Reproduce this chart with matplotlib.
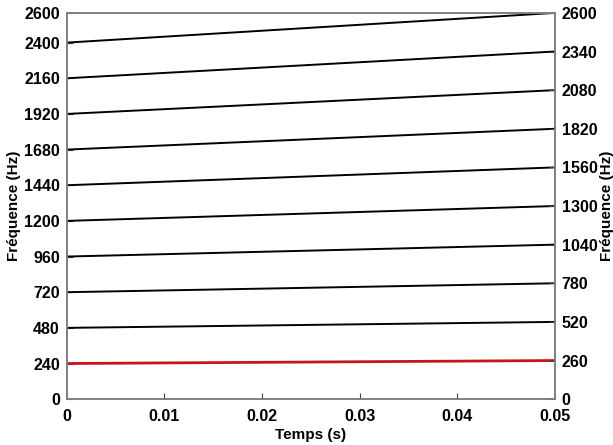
import numpy as np
import matplotlib.pyplot as plt

plt.rcParams['font.family'] = ['Liberation Sans', 'DejaVu Sans']
plt.rcParams['font.weight'] = 'bold'

# fundamental sweeps from 240 Hz to 260 Hz over 50 ms, harmonics 1..10
t = [0.0, 0.05]
f_start = [240, 480, 720, 960, 1200, 1440, 1680, 1920, 2160, 2400]
f_end = [260, 520, 780, 1040, 1300, 1560, 1820, 2080, 2340, 2600]

left_ticks = [0, 240, 480, 720, 960, 1200, 1440, 1680, 1920, 2160, 2400, 2600]
right_ticks = [0, 260, 520, 780, 1040, 1300, 1560, 1820, 2080, 2340, 2600]
x_ticks = [0, 0.01, 0.02, 0.03, 0.04, 0.05]

fig = plt.figure(figsize=(6.13, 4.45), dpi=100)
ax = fig.add_axes([0.109, 0.103, 0.796, 0.868])

for k in range(len(f_start)):
    if k == 0:
        ax.plot(t, [f_start[k], f_end[k]], color='#c8141e', lw=2.0)
    else:
        ax.plot(t, [f_start[k], f_end[k]], color='black', lw=1.4)

ax.set_xlim(0, 0.05)
ax.set_ylim(0, 2600)
ax.set_xticks(x_ticks)
ax.set_xticklabels(['0', '0.01', '0.02', '0.03', '0.04', '0.05'])
ax.set_yticks(left_ticks)
ax.set_xlabel('Temps (s)', fontsize=11, fontweight='bold', labelpad=3)
ax.set_ylabel('Fréquence (Hz)', fontsize=11, fontweight='bold')
ax.yaxis.set_label_coords(-0.094, 0.5)

ax2 = ax.twinx()
ax2.set_ylim(0, 2600)
ax2.set_yticks(right_ticks)
ax2.set_ylabel('Fréquence (Hz)', fontsize=11, fontweight='bold')
ax2.yaxis.set_label_coords(1.093, 0.5)

for a in (ax, ax2):
    a.tick_params(direction='in', length=4, width=0.8, color='#444444',
                  labelsize=11.5, pad=5)
    for s in a.spines.values():
        s.set_color('#808080')
        s.set_linewidth(1.2)
ax.tick_params(axis='x', pad=7)

plt.savefig('out.png', dpi=100)
